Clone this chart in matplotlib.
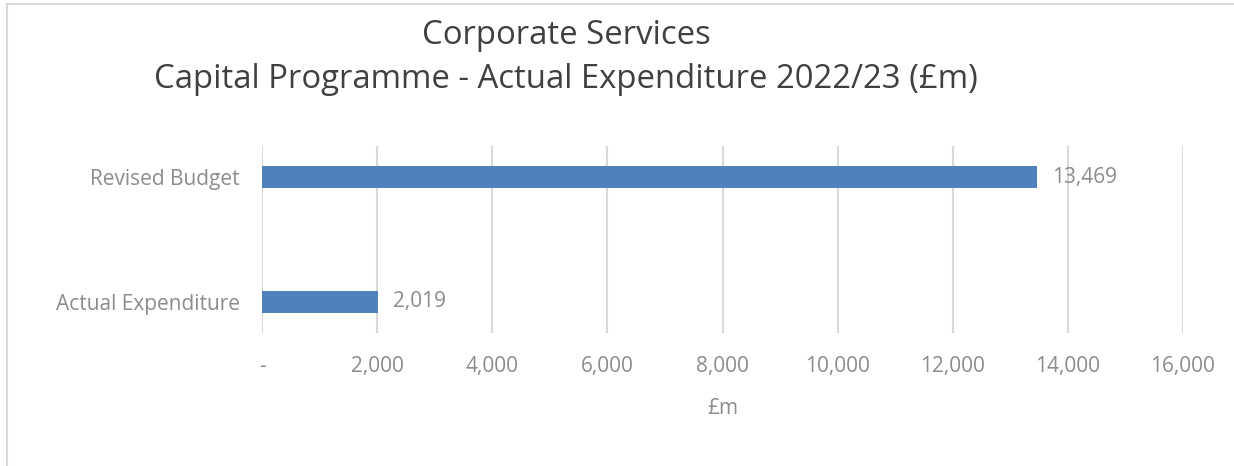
import matplotlib
matplotlib.use("Agg")
import matplotlib.pyplot as plt
from matplotlib.patches import Rectangle
from matplotlib.ticker import FuncFormatter

# capital programme figures, £m
categories = ["Actual Expenditure", "Revised Budget"]
values = [2019, 13469]
x_ticks = [0, 2000, 4000, 6000, 8000, 10000, 12000, 14000, 16000]

BAR_COLOR = "#4f81bd"
TEXT_GREY = "#8c8c8c"
GRID_GREY = "#d9d9d9"
LABEL_SIZE = 15

plt.rcParams["font.family"] = ["Open Sans", "DejaVu Sans"]

W, H = 1234, 466
fig = plt.figure(figsize=(W / 100, H / 100), dpi=100)

# chart frame (cut off on the right and bottom)
fig.patches.append(Rectangle((6.5 / W, -0.1), 1.2, 1 - 3.5 / H + 0.1,
                             transform=fig.transFigure, fill=False,
                             edgecolor="#d9d9d9", linewidth=1.5))

left, right = 262 / W, 1183 / W
top, bottom = 1 - 146 / H, 1 - 333 / H
ax = fig.add_axes([left, bottom, right - left, top - bottom])

ypos = list(range(len(categories)))
ax.barh(ypos, values, height=0.176, color=BAR_COLOR, zorder=3)

for y, v in zip(ypos, values):
    ax.text(v + 260, y, f"{v:,}", va="center", ha="left",
            fontsize=LABEL_SIZE, color=TEXT_GREY)

ax.set_xlim(0, 16000)
ax.set_ylim(-0.248, 1.248)
ax.set_xticks(x_ticks)
ax.xaxis.set_major_formatter(FuncFormatter(lambda v, p: "-" if v == 0 else f"{int(v):,}"))
ax.set_yticks(ypos)
ax.set_yticklabels(categories)

ax.grid(axis="x", color=GRID_GREY, linewidth=1.5, zorder=0)
for s in ax.spines.values():
    s.set_visible(False)
ax.tick_params(axis="both", length=0, labelsize=LABEL_SIZE, labelcolor=TEXT_GREY)
ax.tick_params(axis="x", pad=16.5)
ax.tick_params(axis="y", pad=16)

ax.set_xlabel("£m", fontsize=LABEL_SIZE, color=TEXT_GREY, labelpad=15)

fig.text(566 / W, 1 - 35 / H, "Corporate Services", ha="center", va="center",
         fontsize=23.7, color="#404040")
fig.text(566 / W, 1 - 80 / H, "Capital Programme - Actual Expenditure 2022/23 (£m)",
         ha="center", va="center", fontsize=23.7, color="#404040")

fig.savefig("out.png", dpi=100)
